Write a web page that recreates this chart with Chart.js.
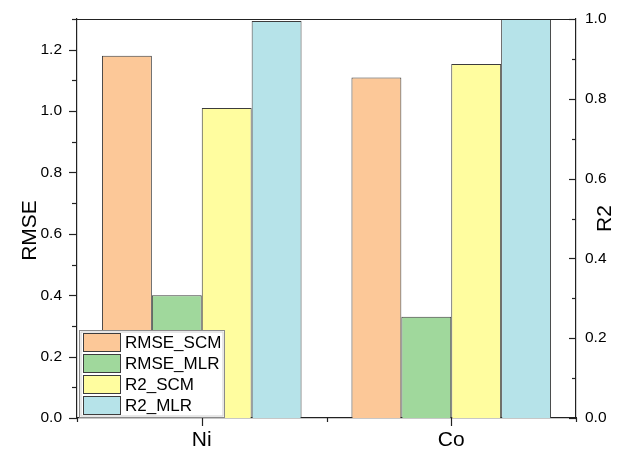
<!DOCTYPE html>
<html>
<head>
<meta charset="utf-8">
<script src="https://cdn.jsdelivr.net/npm/chart.js@4/dist/chart.umd.min.js"></script>
<style>
  html, body { margin: 0; padding: 0; background: #fff; }
  #wrap { width: 635px; height: 449px; position: relative; }
</style>
</head>
<body>
<div id="wrap"><canvas id="c" width="635" height="449"></canvas></div>
<script>
// Categories and series
const categories = ['Ni', 'Co'];
const rmseSCM = [1.18, 1.109];
const rmseMLR = [0.40, 0.33];
const r2SCM = [0.777, 0.887];
const r2MLR = [0.995, 1.0];

const seriesNames = ['RMSE_SCM', 'RMSE_MLR', 'R2_SCM', 'R2_MLR'];
const seriesColors = ['#FCC898', '#A0D89C', '#FFFD9F', '#B6E3E9'];

const FONT = '"Liberation Sans", Arial, sans-serif';
const EDGE = '#3c3c3c';

function mkSet(i, data, axis) {
  return {
    label: seriesNames[i],
    data: data,
    yAxisID: axis,
    backgroundColor: seriesColors[i],
    borderColor: EDGE,
    borderWidth: 1,
    borderSkipped: 'start',
    categoryPercentage: 0.8,
    barPercentage: 1.0
  };
}

// fixed scale box sizes, no extra label overflow padding
function fixBox(w, h) {
  return s => {
    if (w !== null) s.width = w;
    if (h !== null) s.height = h;
    s.paddingTop = 0; s.paddingBottom = 0; s.paddingLeft = 0; s.paddingRight = 0;
  };
}

// Frame, minor/major ticks, axis titles and the inset legend
const decor = {
  id: 'decor',
  afterDraw(chart) {
    const ctx = chart.ctx;
    const a = chart.chartArea;
    const y = chart.scales.y, y1 = chart.scales.y1, x = chart.scales.x;
    ctx.save();
    ctx.strokeStyle = '#222';
    ctx.lineWidth = 1.2;
    // top frame line
    ctx.beginPath();
    ctx.moveTo(a.left, a.top + 0.5); ctx.lineTo(a.right, a.top + 0.5);
    ctx.stroke();
    // left axis ticks (outward)
    for (let v = 0; v <= 1.3001; v += 0.1) {
      const p = Math.round(y.getPixelForValue(v)) + 0.5;
      const major = Math.round(v * 10) % 2 === 0;
      ctx.beginPath();
      ctx.moveTo(a.left, p); ctx.lineTo(a.left - (major ? 8 : 5), p);
      ctx.stroke();
    }
    // right axis ticks (inward)
    for (let v = 0; v <= 1.0001; v += 0.1) {
      const p = Math.round(y1.getPixelForValue(v)) + 0.5;
      const major = Math.round(v * 10) % 2 === 0;
      ctx.beginPath();
      ctx.moveTo(a.right, p); ctx.lineTo(a.right - (major ? 7 : 4), p);
      ctx.stroke();
    }
    // bottom axis ticks: major at categories, minor between
    for (let i = 0; i < categories.length; i++) {
      const p = Math.round(x.getPixelForValue(i)) + 0.5;
      ctx.beginPath(); ctx.moveTo(p, a.bottom); ctx.lineTo(p, a.bottom + 8); ctx.stroke();
    }
    for (let i = -0.5; i <= categories.length - 0.5; i += 1) {
      const p = Math.round(x.getPixelForValue(i)) + 0.5;
      ctx.beginPath(); ctx.moveTo(p, a.bottom); ctx.lineTo(p, a.bottom + 4); ctx.stroke();
    }
    // axis titles
    ctx.fillStyle = '#000';
    ctx.font = '21px ' + FONT;
    ctx.textAlign = 'center';
    ctx.textBaseline = 'middle';
    ctx.save();
    ctx.translate(30, (a.top + a.bottom) / 2 + 12);
    ctx.rotate(-Math.PI / 2);
    ctx.fillText('RMSE', 0, 0);
    ctx.restore();
    ctx.save();
    ctx.translate(605, (a.top + a.bottom) / 2);
    ctx.rotate(-Math.PI / 2);
    ctx.fillText('R2', 0, 0);
    ctx.restore();

    // legend inset at lower left
    const lx = 79.5, ly = 330.5, lw = 145, lh = 87;
    ctx.fillStyle = '#fff';
    ctx.fillRect(lx, ly, lw, lh);
    ctx.lineWidth = 1;
    ctx.strokeStyle = '#8a8a8a';
    ctx.strokeRect(lx, ly, lw, lh);
    ctx.strokeStyle = '#d0d0d0';
    ctx.strokeRect(lx + 1.5, ly + 1.5, lw - 3, lh - 3);
    ctx.font = '17px ' + FONT;
    ctx.textAlign = 'left';
    ctx.textBaseline = 'middle';
    chart.data.datasets.forEach((ds, i) => {
      const ry = 333 + i * 21;
      ctx.fillStyle = ds.backgroundColor;
      ctx.fillRect(83, ry, 37, 18);
      ctx.strokeStyle = EDGE;
      ctx.strokeRect(83.5, ry + 0.5, 37, 18);
      ctx.fillStyle = '#000';
      ctx.fillText(ds.label, 125, ry + 10);
    });
    ctx.restore();
  }
};

new Chart(document.getElementById('c'), {
  type: 'bar',
  data: {
    labels: categories,
    datasets: [
      mkSet(0, rmseSCM, 'y'),
      mkSet(1, rmseMLR, 'y'),
      mkSet(2, r2SCM, 'y1'),
      mkSet(3, r2MLR, 'y1')
    ]
  },
  options: {
    responsive: false,
    animation: false,
    layout: { padding: { top: 19, left: 0, right: 0, bottom: 0 } },
    plugins: { legend: { display: false }, tooltip: { enabled: false } },
    scales: {
      x: {
        afterFit: fixBox(null, 31),
        grid: { display: false, drawTicks: false },
        border: { display: true, color: '#222', width: 1.2 },
        ticks: { color: '#000', font: { family: FONT, size: 21 }, padding: 10 }
      },
      y: {
        position: 'left',
        min: 0, max: 1.3,
        afterFit: fixBox(77, null),
        afterBuildTicks(s) {
          s.ticks = [0, 0.2, 0.4, 0.6, 0.8, 1.0, 1.2].map(v => ({ value: v }));
        },
        grid: { display: false, drawTicks: false },
        border: { display: true, color: '#222', width: 1.2 },
        ticks: {
          color: '#000', font: { family: FONT, size: 15.5 }, padding: 15,
          callback: v => Number(v).toFixed(1)
        }
      },
      y1: {
        position: 'right',
        min: 0, max: 1.0,
        afterFit: fixBox(59, null),
        afterBuildTicks(s) {
          s.ticks = [0, 0.2, 0.4, 0.6, 0.8, 1.0].map(v => ({ value: v }));
        },
        grid: { display: false, drawTicks: false },
        border: { display: true, color: '#222', width: 1.2 },
        ticks: {
          color: '#000', font: { family: FONT, size: 15.5 }, padding: 9,
          callback: v => Number(v).toFixed(1)
        }
      }
    }
  },
  plugins: [decor]
});
</script>
</body>
</html>
